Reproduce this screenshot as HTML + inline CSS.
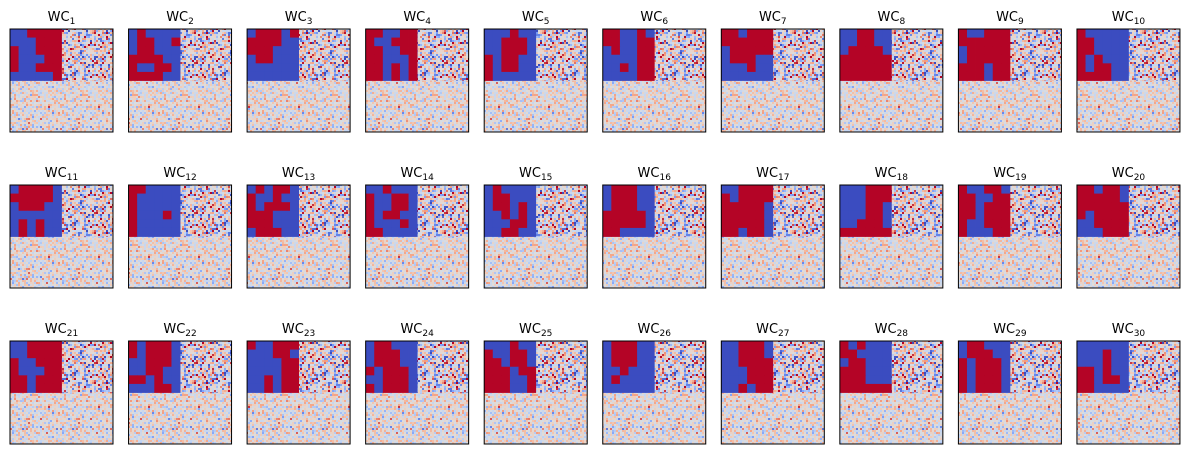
<!DOCTYPE html>
<html><head><meta charset="utf-8"><style>
body{margin:0;background:#fff;}
svg{display:block;font-family:"DejaVu Sans","Liberation Sans",sans-serif;}
</style></head><body>
<svg id="chart" width="1189" height="454" viewBox="0 0 1189 454" xmlns="http://www.w3.org/2000/svg">
<defs id="defs"></defs>
</svg>
<script>
// Blob quadrant (top-left) per panel: 6x6 grid, 1 = red, 0 = blue
const panelLabels = Array.from({length:30},(_,i)=>String(i+1));
const blobGrids = [
["001111","000111","100111","100011","100111","000001"],
["010000","011001","011000","111100","100110","111100"],
["011101","111100","111000","011000","000000","000000"],
["110011","100111","110011","110001","110101","110101"],
["000100","001110","001110","101100","101100","100000"],
["110010","110011","010011","000011","001011","000011"],
["110111","111111","011111","011100","000100","000000"],
["001100","001100","011110","111111","111111","111111"],
["100111","111111","011111","011111","111011","111011"],
["100000","110000","110000","101000","101100","111100"],
["011110","111110","011100","000000","010100","010100"],
["110000","100000","100000","100010","100000","100000"],
["010110","100100","101110","111000","111000","011100"],
["001000","100110","100110","101100","100010","110000"],
["010000","011000","011010","001010","000110","001100"],
["011100","011100","011100","111110","111110","110000"],
["001111","101111","111110","111110","111110","110110"],
["000111","000111","000110","000110","001110","111111"],
["100110","110011","110111","110111","100111","100011"],
["110110","111110","111111","101111","001111","000111"],
["001111","001111","100111","100011","110111","110111"],
["101110","101110","001110","001100","110100","000110"],
["100111","000110","000011","000011","001011","001011"],
["011000","011100","011100","101110","001110","101110"],
["000100","100110","110110","111011","111001","111001"],
["011100","011100","011100","001000","010000","000000"],
["001110","001110","001111","000111","000111","001011"],
["101000","110000","011000","111000","111000","111111"],
["011000","011100","101110","101110","101110","101110"],
["000000","000100","000100","110100","110110","110000"]
];
const svg=document.getElementById('chart');
const defs=document.getElementById('defs');
const NS='http://www.w3.org/2000/svg';
function mk(tag,attrs,parent){const e=document.createElementNS(NS,tag);for(const k in attrs)e.setAttribute(k,attrs[k]);parent.appendChild(e);return e;}
// coolwarm colormap stops (texture only)
const cmStops=[[59,76,192],[123,159,249],[192,212,245],[221,221,221],[242,203,183],[244,154,123],[180,4,38]];
function cmap(v){v=Math.max(0,Math.min(1,v));const p=v*(cmStops.length-1);const i=Math.min(cmStops.length-2,Math.floor(p));const f=p-i;const a=cmStops[i],b=cmStops[i+1];return 'rgb('+a.map((x,k)=>Math.round(x+(b[k]-x)*f)).join(',')+')';}
let seed=12345;function hash(){seed=(seed*1103515245+12345)&0x7fffffff;return seed/0x7fffffff;}
function gauss(){return (hash()+hash()+hash()+hash()-2)/0.577;}
function makePattern(id,sd,mean){
  const tile=50,cell=2;
  const p=mk('pattern',{id:id,x:0,y:0,width:tile,height:tile,patternUnits:'userSpaceOnUse'},defs);
  for(let yy=0;yy<tile;yy+=cell)for(let xx=0;xx<tile;xx+=cell){
    mk('rect',{x:xx,y:yy,width:cell,height:cell,fill:cmap(mean+gauss()*sd)},p);
  }
}
makePattern('texTop',0.27,0.5);
makePattern('texBot',0.17,0.52);
const colX0=10, colStep=118.55, rowY0=29, rowStep=156, W=103, H=103;
blobGrids.forEach((grid,i)=>{
  const c=i%10, r=Math.floor(i/10);
  const x=colX0+c*colStep, y=rowY0+r*rowStep;
  const g=mk('g',{},svg);
  
  
  const bottom=mk('rect',{x:x,y:y+H/2,width:W,height:H/2,fill:'url(#texBot)'},g);
  
  
  const tr=mk('rect',{x:x+W/2,y:y,width:W/2,height:H/2,fill:'url(#texTop)'},g);
  
  
  const n=grid.length, cw=(W/2)/grid[0].length, ch=(H/2)/n;
  grid.forEach((row,ri)=>{
    for(let ci=0;ci<row.length;ci++){
      const cell=mk('rect',{x:(x+ci*cw).toFixed(2),y:(y+ri*ch).toFixed(2),width:(cw+0.4).toFixed(2),height:(ch+0.4).toFixed(2),fill:row[ci]==='1'?'#b40426':'#3b4cc0'},g);
      
      
    }
  });
  const fr=mk('rect',{x:x,y:y,width:W,height:H,fill:'none',stroke:'#000','stroke-width':1},g);
  
  
  const t=mk('text',{x:x+W/2,y:y-8,'text-anchor':'middle','font-size':13,fill:'#000'},g);
  
  
  t.appendChild(document.createTextNode('WC'));
  const s=mk('tspan',{'font-size':9,dy:3},t);
  s.textContent=panelLabels[i];
});
</script>
</body></html>
